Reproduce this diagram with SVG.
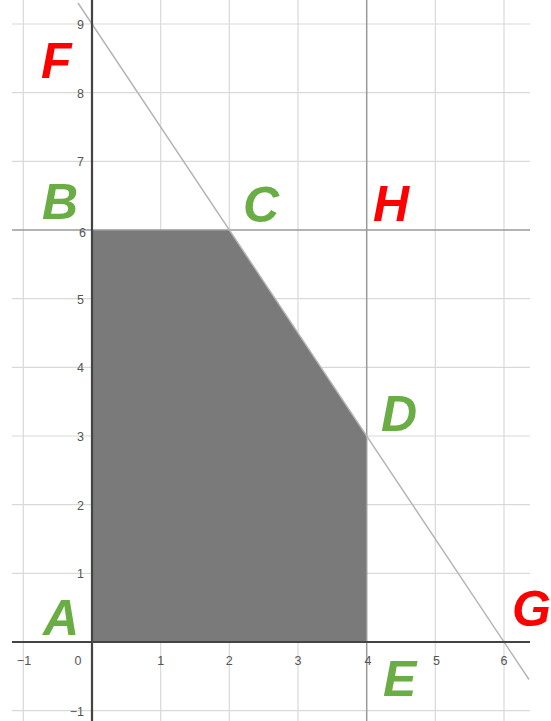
<svg xmlns="http://www.w3.org/2000/svg" width="551" height="721" viewBox="0 0 551 721">
<style>
.g{stroke:#d9d9d9;stroke-width:1.2;fill:none}
.gd{stroke:#9a9a9a;stroke-width:1.5;fill:none}
.ax{stroke:#444;stroke-width:2.2;fill:none}
.tk{font-family:"Liberation Sans",Arial,sans-serif;font-size:12.5px;fill:#555}
.pt{font-family:"Liberation Sans",Arial,sans-serif;font-size:50px;font-weight:bold;font-style:italic}
.gr{fill:#6aad45}
.rd{fill:#ff0000}
</style>
<rect width="551" height="721" fill="#fff"/>
<g id="grid">
<path class="g" d="M23.3 0V721M160.7 0V721M229.3 0V721M298 0V721M435.3 0V721M504 0V721"/>
<path class="g" d="M12 24H530M12 92.7H530M12 161.3H530M12 298.7H530M12 367.3H530M12 436H530M12 504.7H530M12 573.3H530M12 710.7H530"/>
</g>
<g id="region">
<polygon points="92,642 92,230 229.3,230 366.7,436 366.7,642" fill="#7a7a7a"/>
</g>
<g id="connectors">
<path class="gd" d="M12 230H530"/>
<path class="gd" d="M366.7 0V721"/>
<path d="M78 3L529 679.5" stroke="#b5b5b5" stroke-width="1.5" fill="none"/>
</g>
<g id="axes">
<path class="ax" d="M12 642H530"/>
<path class="ax" d="M92 0V721"/>
</g>
<g id="ticks" class="tk">
<g text-anchor="end">
<text x="84" y="29">9</text>
<text x="84" y="97.7">8</text>
<text x="84" y="166.3">7</text>
<text x="86" y="237">6</text>
<text x="84" y="303.7">5</text>
<text x="84" y="372.3">4</text>
<text x="84" y="441">3</text>
<text x="84" y="509.7">2</text>
<text x="84" y="578.3">1</text>
<text x="84" y="715.7">−1</text>
</g>
<g text-anchor="middle">
<text x="24" y="665">−1</text>
<text x="78" y="665">0</text>
<text x="160.7" y="665">1</text>
<text x="229.3" y="665">2</text>
<text x="298" y="665">3</text>
<text x="368" y="665">4</text>
<text x="436.5" y="665">5</text>
<text x="504" y="665">6</text>
</g>
</g>
<g id="F"><text class="pt rd" x="41" y="78">F</text></g>
<g id="B"><text class="pt gr" x="42" y="219">B</text></g>
<g id="C"><text class="pt gr" x="243" y="222">C</text></g>
<g id="H"><text class="pt rd" x="373" y="221">H</text></g>
<g id="D"><text class="pt gr" x="381" y="431">D</text></g>
<g id="A"><text class="pt gr" x="43" y="635">A</text></g>
<g id="E"><text class="pt gr" x="383" y="696">E</text></g>
<g id="G"><text class="pt rd" x="512" y="626">G</text></g>
</svg>
